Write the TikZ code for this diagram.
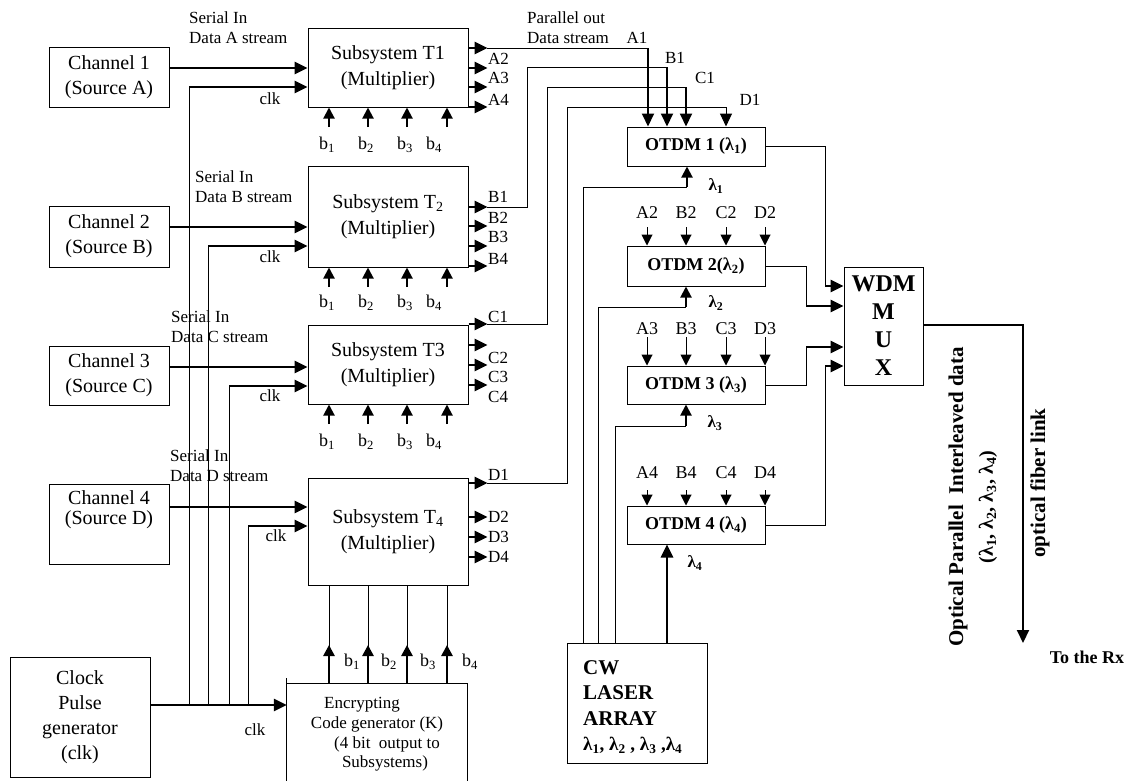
\documentclass[tikz,border=0pt]{standalone}
\usepackage{fontspec}
\setmainfont{Liberation Serif}
\usetikzlibrary{arrows.meta}
\newcommand\fs[2]{\fontsize{#1}{#2}\selectfont}
\begin{document}
\begin{tikzpicture}[x=1pt,y=-1pt,
  box/.style={draw, line width=1pt, inner sep=0pt, align=center},
  thn/.style={line width=1pt},
  thk/.style={line width=2.6pt},
  mid/.style={line width=2pt},
  arr/.style={-{Triangle[length=13pt,width=12pt]}},
  sarr/.style={-{Triangle[length=11pt,width=11pt]}},
  lbl/.style={inner sep=0pt, font=\fs{17}{20}},
  blbl/.style={inner sep=0pt, font=\fs{18}{20}},
  bold/.style={inner sep=0pt, font=\bfseries\fs{17}{17}}
]
\fill[white] (0,0) rectangle (1130,780);
\useasboundingbox (0,0) rectangle (1130,780);

% ---------- channel sources ----------
\node[box, minimum width=120, minimum height=60, font=\fs{20}{25}] (ch1) at (109,77) {Channel 1\\(Source A)};
\node[box, minimum width=120, minimum height=61, font=\fs{20}{25}] (ch2) at (109,236.5) {Channel 2\\(Source B)};
\node[box, minimum width=120, minimum height=59, font=\fs{20}{25}] (ch3) at (109,375.5) {Channel 3\\(Source C)};
\node[box, minimum width=120, minimum height=80] (ch4) at (109,524) {};
\node[inner sep=0pt, align=center, font=\fs{20}{20}] (ch4t) at (109,510) {Channel 4\\(Source D)};
\node[box, minimum width=140, minimum height=120, font=\fs{20}{25}] (clk) at (80,717) {Clock\\Pulse\\generator\\(clk)};

% ---------- subsystems ----------
\node[box, minimum width=160, minimum height=79, font=\fs{20}{26}] (t1) at (388,67.5) {Subsystem T1\\(Multiplier)};
\node[box, minimum width=160, minimum height=101, font=\fs{20}{26}] (t2) at (388,216.5) {Subsystem T\textsubscript{2}\\(Multiplier)};
\node[box, minimum width=160, minimum height=79, font=\fs{20}{26}] (t3) at (388,364.5) {Subsystem T3\\(Multiplier)};
\node[box, minimum width=160, minimum height=107, font=\fs{20}{26}] (t4) at (388,531.5) {Subsystem T\textsubscript{4}\\(Multiplier)};

% ---------- encrypting code generator (open at the bottom) ----------
\node[inner sep=0pt, minimum width=180, minimum height=116] (enc) at (377,742) {};
\draw[thn] (enc.south west) -- ([yshift=6pt]enc.north west);
\draw[thn] (enc.north west) -- (enc.north east) -- (enc.south east);
\node[lbl] (e1) at (362,705) {Encrypting};
\node[lbl] (e2) at (377,724) {Code generator (K)};
\node[lbl] (e3) at (387,744) {(4 bit\ \ output to};
\node[lbl] (e4) at (385,763) {Subsystems)};

% ---------- CW laser ----------
\node[box, minimum width=140, minimum height=120] (cw) at (637,703) {};
\node[inner sep=0pt, anchor=west, align=left, font=\bfseries\fs{21}{25.5}] (cwt) at (583,707) {CW\\LASER\\ARRAY\\{\fs{19}{25.5}λ\textsubscript{1}, λ\textsubscript{2} , λ\textsubscript{3} ,λ\textsubscript{4}}};

% ---------- OTDM ----------
\node[box, minimum width=138, minimum height=39, font=\bfseries\fs{18}{18}] (o1) at (696,146.5) {OTDM 1 (λ\textsubscript{1})};
\node[box, minimum width=138, minimum height=40, font=\bfseries\fs{18}{18}] (o2) at (696,266) {OTDM 2(λ\textsubscript{2})};
\node[box, minimum width=138, minimum height=38, font=\bfseries\fs{18}{18}] (o3) at (696,385) {OTDM 3 (λ\textsubscript{3})};
\node[box, minimum width=138, minimum height=38, font=\bfseries\fs{18}{18}] (o4) at (696,525) {OTDM 4 (λ\textsubscript{4})};

% ---------- WDM ----------
\node[box, minimum width=79, minimum height=118, font=\bfseries\fs{24}{28}] (wdm) at (883.5,326) {WDM\\M\\U\\X};

% ---------- serial-in labels ----------
\node[lbl, anchor=west, align=left] (sa) at (189,28) {Serial In\\Data A stream};
\node[lbl, anchor=west, align=left] (sb) at (195,187) {Serial In\\Data B stream};
\node[lbl, anchor=west, align=left] (sc) at (171,327) {Serial In\\Data C stream};
\node[lbl, anchor=west, align=left] (sd) at (170,466) {Serial In\\Data D stream};
\node[lbl, anchor=west, align=left] (po) at (527,28) {Parallel out\\Data stream};

% ---------- data inputs ----------
\draw[thk,arr] (ch1.east |- 0,68) -- (t1.west |- 0,68);
\draw[thk,arr] (ch2.east |- 0,227) -- (t2.west |- 0,227);
\draw[thk,arr] (ch3.east |- 0,367) -- (t3.west |- 0,367);
\draw[thk,arr] (ch4.east |- 0,507) -- (t4.west |- 0,507);

% ---------- clock distribution ----------
\draw[thk,arr] (clk.east |- 0,705) -- (enc.west |- 0,705);
\draw[thn] (189,705) -- (189,87);
\draw[thk,arr] (189,87) -- (t1.west |- 0,87);
\draw[thn] (208,705) -- (208,246);
\draw[thk,arr] (208,246) -- (t2.west |- 0,246);
\draw[thn] (229,705) -- (229,386);
\draw[thk,arr] (229,386) -- (t3.west |- 0,386);
\draw[thn] (248,705) -- (248,526);
\draw[thk,arr] (248,526) -- (t4.west |- 0,526);
\node[lbl] (k1) at (270,99) {clk};
\node[lbl] (k2) at (270,257) {clk};
\node[lbl] (k3) at (270,396) {clk};
\node[lbl] (k4) at (276,536) {clk};
\node[lbl] (k5) at (255,730) {clk};

% ---------- key bits into T1..T3 ----------
\foreach \x/\lx/\i in {329/327/1,368/366/2,407/405/3,447/434/4}{
  \draw[mid,sarr] (\x,127) -- (t1.south -| \x,0);
  \node[blbl] (bA\i) at (\lx,145) {b\textsubscript{\i}};
  \draw[mid,sarr] (\x,287) -- (t2.south -| \x,0);
  \node[blbl] (bB\i) at (\lx,303) {b\textsubscript{\i}};
  \draw[mid,sarr] (\x,424) -- (t3.south -| \x,0);
  \node[blbl] (bC\i) at (\lx,442) {b\textsubscript{\i}};
  \draw[thn] (t4.south -| \x,0) -- (enc.north -| \x,0);
  \draw[thk,sarr] (enc.north -| \x,0) -- (\x,645);
}
\node[blbl] (bD1) at (352,662) {b\textsubscript{1}};
\node[blbl] (bD2) at (389,662) {b\textsubscript{2}};
\node[blbl] (bD3) at (428,662) {b\textsubscript{3}};
\node[blbl] (bD4) at (470,662) {b\textsubscript{4}};

% ---------- subsystem outputs ----------
\foreach \y in {48,68,87,107}{\draw[thk,arr] (t1.east |- 0,\y) -- ++(19,0);}
\foreach \y in {207,226,246,266}{\draw[thk,arr] (t2.east |- 0,\y) -- ++(19,0);}
\foreach \y in {324,345,365,385}{\draw[thk,arr] (t3.east |- 0,\y) -- ++(19,0);}
\foreach \y in {483,517,537,557}{\draw[thk,arr] (t4.east |- 0,\y) -- ++(19,0);}
\node[lbl, anchor=west] (la2) at (488,59) {A2};
\node[lbl, anchor=west] (la3) at (488,78) {A3};
\node[lbl, anchor=west] (la4) at (488,100) {A4};
\node[lbl, anchor=west] (lb1) at (488,197) {B1};
\node[lbl, anchor=west] (lb2) at (488,218) {B2};
\node[lbl, anchor=west] (lb3) at (488,237) {B3};
\node[lbl, anchor=west] (lb4) at (488,259) {B4};
\node[lbl, anchor=west] (lc1) at (488,317) {C1};
\node[lbl, anchor=west] (lc2) at (488,358) {C2};
\node[lbl, anchor=west] (lc3) at (488,377) {C3};
\node[lbl, anchor=west] (lc4) at (488,397) {C4};
\node[lbl, anchor=west] (ld1) at (488,475) {D1};
\node[lbl, anchor=west] (ld2) at (488,517) {D2};
\node[lbl, anchor=west] (ld3) at (488,537) {D3};
\node[lbl, anchor=west] (ld4) at (488,557) {D4};

% ---------- routes into OTDM 1 ----------
\draw[thn] (487,48) -- (648,48);
\draw[mid,arr] (648,48) -- (o1.north -| 648,0);
\draw[thn] (487,207) -- (527,207) -- (527,67) -- (667,67);
\draw[mid,arr] (667,67) -- (o1.north -| 667,0);
\draw[thn] (487,324) -- (547,324) -- (547,87) -- (686,87);
\draw[mid,arr] (686,87) -- (o1.north -| 686,0);
\draw[thn] (487,483) -- (567,483) -- (567,107) -- (726,107);
\draw[thn,arr] (726,107) -- (o1.north -| 726,0);
\node[lbl] (ra1) at (637,38) {A1};
\node[lbl] (rb1) at (675,58) {B1};
\node[lbl] (rc1) at (705,78) {C1};
\node[lbl] (rd1) at (750,100) {D1};

% ---------- inputs into OTDM 2..4 ----------
\foreach \n/\x in {A/647,B/686,C/726,D/765}{
  \node[blbl] (\n2) at (\x,213) {\n2};
  \draw[thn,sarr,shorten <=8pt] (\n2.south) -- (\n2.south |- o2.north);
  \node[blbl] (\n3) at (\x,329) {\n3};
  \draw[thn,sarr,shorten <=2pt] (\n3.south) -- (\n3.south |- o3.north);
  \node[blbl] (\n4) at (\x,473) {\n4};
  \draw[thn,sarr,shorten <=11pt] (\n4.south) -- (\n4.south |- o4.north);
}

% ---------- laser feeds ----------
\draw[thn] (cw.north -| 583,0) -- (583,187) -- (687,187);
\draw[mid,sarr] (687,187) -- (o1.south -| 687,0);
\draw[thn] (cw.north -| 598,0) -- (598,307) -- (686,307);
\draw[mid,sarr] (686,307) -- (o2.south -| 686,0);
\draw[thn] (cw.north -| 615,0) -- (615,426) -- (686,426);
\draw[mid,sarr] (686,426) -- (o3.south -| 686,0);
\draw[thk,arr] (cw.north -| 667,0) -- (o4.south -| 667,0);
\node[bold] (l1) at (716,186) {λ\textsubscript{1}};
\node[bold] (l2) at (716,303) {λ\textsubscript{2}};
\node[bold] (l3) at (715,423) {λ\textsubscript{3}};
\node[bold] (l4) at (695,563) {λ\textsubscript{4}};

% ---------- OTDM to WDM ----------
\draw[thn] (o1.east) -| (825,286);
\draw[thk,arr] (825,286) -- (wdm.west |- 0,286);
\draw[thn] (o2.east) -| (806,306);
\draw[thk,arr] (806,306) -- (wdm.west |- 0,306);
\draw[thn] (o3.east) -| (806,347);
\draw[thk,arr] (806,347) -- (wdm.west |- 0,347);
\draw[thn] (o4.east) -| (825,366);
\draw[thk,arr] (825,366) -- (wdm.west |- 0,366);

% ---------- output link ----------
\coordinate (rx) at (1023,643);
\draw[mid,arr] (wdm.east |- 0,325) -| (rx);
\node[inner sep=0pt, font=\bfseries\fs{18}{18}] (rxt) at (1087,657) {To the Rx};
\node[inner sep=0pt, rotate=90, font=\bfseries\fs{21}{21}] (opi) at (958,497) {Optical Parallel\ \ Interleaved data};
\node[inner sep=0pt, rotate=90, font=\bfseries\fs{20}{20}] (lams) at (988,507) {(λ\textsubscript{1}, λ\textsubscript{2}, λ\textsubscript{3}, λ\textsubscript{4})};
\node[inner sep=0pt, rotate=90, font=\bfseries\fs{21}{21}] (ofl) at (1040,483) {optical fiber link};
\end{tikzpicture}
\end{document}
